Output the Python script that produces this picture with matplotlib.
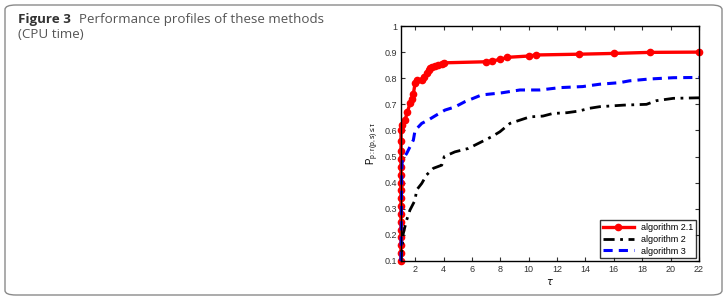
import matplotlib
matplotlib.use("Agg")
import matplotlib.pyplot as plt
from matplotlib.patches import FancyBboxPatch

# algorithm 2.1 (red, with markers)
tau_a21 = [1.0, 1.0, 1.0, 1.0, 1.0, 1.0, 1.0, 1.0, 1.0, 1.0, 1.0, 1.0, 1.0, 1.0, 1.0, 1.0, 1.0,
           1.1, 1.28, 1.45, 1.63, 1.75, 1.87, 1.99, 2.1, 2.46, 2.6, 2.81, 2.95, 3.04, 3.2, 3.39,
           3.6, 3.86, 4.05, 6.96, 7.39, 8.0, 8.49, 10.0, 10.49, 13.54, 16.02, 18.54, 22.0]
p_a21 = [0.1, 0.13, 0.16, 0.19, 0.22, 0.25, 0.28, 0.31, 0.34, 0.37, 0.4, 0.43, 0.46, 0.49, 0.52,
         0.56, 0.6, 0.62, 0.64, 0.67, 0.704, 0.72, 0.74, 0.78, 0.793, 0.795, 0.805, 0.819, 0.83,
         0.838, 0.843, 0.848, 0.851, 0.854, 0.859, 0.863, 0.866, 0.872, 0.880, 0.885, 0.889,
         0.892, 0.895, 0.899, 0.9]

# algorithm 2 (black dash-dot)
tau_a2 = [1.0, 1.02, 1.16, 1.4, 1.63, 1.99, 2.1, 2.46, 2.81, 3.28, 3.87, 4.05, 4.8, 5.74, 6.44,
          7.39, 7.97, 8.68, 10.08, 11.0, 11.7, 12.7, 13.5, 14.3, 15.0, 16.7, 18.3, 19.0, 20.2, 22.0]
p_a2 = [0.1, 0.116, 0.206, 0.257, 0.295, 0.333, 0.372, 0.397, 0.43, 0.455, 0.467, 0.5, 0.518, 0.531, 0.55,
        0.576, 0.595, 0.627, 0.652, 0.655, 0.665, 0.668, 0.674, 0.685, 0.691, 0.697, 0.7, 0.714, 0.723, 0.725]

# algorithm 3 (blue dashed)
tau_a3 = [1.0, 1.05, 1.09, 1.4, 1.87, 1.99, 2.46, 2.92, 3.5, 4.1, 4.8, 5.5, 6.68, 8.09, 9.38,
          10.8, 12.2, 13.8, 15.0, 16.4, 17.1, 18.5, 20.2, 22.0]
p_a3 = [0.1, 0.45, 0.487, 0.512, 0.563, 0.6, 0.627, 0.64, 0.659, 0.678, 0.69, 0.71, 0.736, 0.744, 0.755,
        0.755, 0.764, 0.768, 0.777, 0.783, 0.79, 0.797, 0.802, 0.803]

x_ticks = [2, 4, 6, 8, 10, 12, 14, 16, 18, 20, 22]
y_ticks = [0.1, 0.2, 0.3, 0.4, 0.5, 0.6, 0.7, 0.8, 0.9, 1]

plt.rcParams['font.family'] = ['Liberation Sans', 'DejaVu Sans']

fig = plt.figure(figsize=(7.27, 3.0), dpi=100)

# rounded frame around the figure panel
frame = FancyBboxPatch((5 / 727, 5 / 300), 717 / 727, 290 / 300,
                       boxstyle="round,pad=0,rounding_size=0.015",
                       transform=fig.transFigure, facecolor='none',
                       edgecolor='#8a8a8a', linewidth=1.0, zorder=-5)
fig.patches.append(frame)

cap_y = 1 - 19 / 300
t1 = fig.text(18 / 727, cap_y, "Figure 3", fontsize=9.6, family='Open Sans',
              fontweight='bold', color='#333333', va='center')
fig.canvas.draw()
bb = t1.get_window_extent()
fig.text((bb.x1 + 8) / 727, cap_y, "Performance profiles of these methods", fontsize=9.6,
         family='Open Sans', color='#555555', va='center')
fig.text(18 / 727, 1 - 34 / 300, "(CPU time)", fontsize=9.6,
         family='Open Sans', color='#555555', va='center')

ax = fig.add_axes([401 / 727, 1 - 261 / 300, 298 / 727, 235 / 300])
ax.plot(tau_a21, p_a21, color='red', linewidth=2.4, marker='o', markersize=4.5,
        label='algorithm 2.1', clip_on=False)
ax.plot(tau_a2, p_a2, color='black', linewidth=2.0, dashes=(4, 2, 1, 2),
        label='algorithm 2', clip_on=False)
ax.plot(tau_a3, p_a3, color='blue', linewidth=2.2, dashes=(3, 2),
        label='algorithm 3', clip_on=False)

ax.set_xlim(1, 22)
ax.set_ylim(0.1, 1)
ax.set_xticks(x_ticks)
ax.set_yticks(y_ticks)
ax.set_yticklabels(['0.1', '0.2', '0.3', '0.4', '0.5', '0.6', '0.7', '0.8', '0.9', '1'])
ax.tick_params(direction='in', top=True, right=True, labelsize=6.5, length=3,
               colors='#333333', pad=3)
for s in ax.spines.values():
    s.set_linewidth(1.0)
ax.set_xlabel(r'$\tau$', fontsize=7, labelpad=2)
ax.set_ylabel(r'$\mathregular{P_{p:r(p,s)\leq\tau}}$', fontsize=7, labelpad=2)

leg = ax.legend(loc='lower right', fontsize=6.5, frameon=True, fancybox=False,
                edgecolor='black', handlelength=3.5, borderpad=0.3, labelspacing=0.3,
                borderaxespad=0.3)
leg.get_frame().set_linewidth(1.0)

fig.savefig('out.png', dpi=100)
